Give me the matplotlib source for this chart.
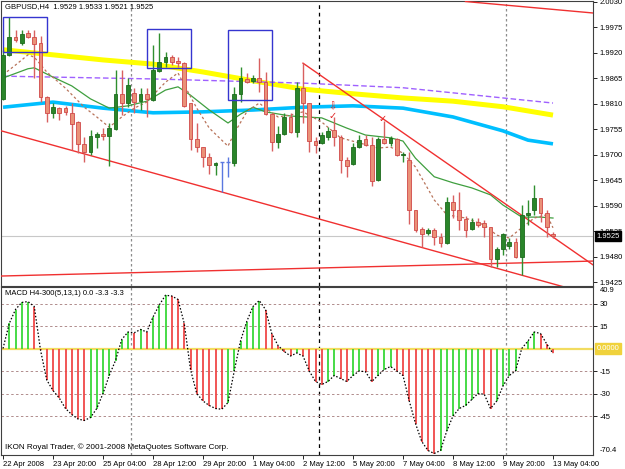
import numpy as np
import matplotlib.pyplot as plt
from matplotlib.patches import Rectangle
from matplotlib.transforms import blended_transform_factory

plt.rcParams['font.family'] = ['Liberation Sans', 'DejaVu Sans']

# GBPUSD H4 candles, 22 Apr 2008 12:00 .. 13 May 2008 04:00 (89 bars)
opens = [1.9821, 1.9916, 1.9954, 1.9942, 1.9963, 1.9954, 1.9942, 1.9825, 1.9791, 1.9801,
         1.9801, 1.9791, 1.9771, 1.9724, 1.9706, 1.9739, 1.9745, 1.9741, 1.9756, 1.9832,
         1.9812, 1.9834, 1.9816, 1.9832, 1.9819, 1.9881, 1.9901, 1.9911, 1.9903, 1.9898,
         1.9812, 1.9734, 1.9717, 1.9696, 1.9678, 1.9685, 1.9685, 1.9683, 1.9832, 1.9864,
         1.9860, 1.9866, 1.9857, 1.9788, 1.9728, 1.9745, 1.9782, 1.9750, 1.9844, 1.9812,
         1.9730, 1.9726, 1.9739, 1.9754, 1.9739, 1.9689, 1.9681, 1.9717, 1.9734, 1.9722,
         1.9646, 1.9734, 1.9726, 1.9734, 1.9700, 1.9689, 1.9581, 1.9540, 1.9532, 1.9538,
         1.9523, 1.9510, 1.9599, 1.9581, 1.9562, 1.9540, 1.9555, 1.9553, 1.9545, 1.9476,
         1.9497, 1.9504, 1.9512, 1.9480, 1.9571, 1.9581, 1.9607, 1.9575, 1.9529]
highs = [1.9926, 1.9998, 1.9970, 1.9970, 1.9970, 1.9970, 1.9957, 1.9827, 1.9812, 1.9803,
         1.9806, 1.9812, 1.9773, 1.9739, 1.9754, 1.9750, 1.9758, 1.9769, 1.9883, 1.9883,
         1.9866, 1.9844, 1.9844, 1.9844, 1.9937, 1.9963, 1.9922, 1.9916, 1.9911, 1.9901,
         1.9812, 1.9769, 1.9717, 1.9704, 1.9685, 1.9685, 1.9696, 1.9847, 1.9890, 1.9877,
         1.9873, 1.9909, 1.9879, 1.9788, 1.9763, 1.9791, 1.9791, 1.9857, 1.9898, 1.9812,
         1.9739, 1.9750, 1.9760, 1.9782, 1.9743, 1.9696, 1.9726, 1.9743, 1.9743, 1.9739,
         1.9739, 1.9773, 1.9741, 1.9737, 1.9706, 1.9706, 1.9581, 1.9545, 1.9543, 1.9543,
         1.9532, 1.9609, 1.9614, 1.9620, 1.9568, 1.9564, 1.9564, 1.9560, 1.9545, 1.9501,
         1.9532, 1.9521, 1.9521, 1.9592, 1.9603, 1.9635, 1.9607, 1.9581, 1.9533]
lows = [1.9819, 1.9914, 1.9944, 1.9937, 1.9952, 1.9866, 1.9814, 1.9771, 1.9780, 1.9775,
        1.9786, 1.9711, 1.9704, 1.9685, 1.9700, 1.9715, 1.9732, 1.9676, 1.9754, 1.9786,
        1.9803, 1.9791, 1.9797, 1.9782, 1.9817, 1.9879, 1.9890, 1.9894, 1.9890, 1.9803,
        1.9711, 1.9706, 1.9674, 1.9659, 1.9657, 1.9620, 1.9653, 1.9676, 1.9814, 1.9855,
        1.9855, 1.9836, 1.9786, 1.9709, 1.9715, 1.9743, 1.9747, 1.9739, 1.9769, 1.9706,
        1.9704, 1.9724, 1.9732, 1.9719, 1.9661, 1.9653, 1.9678, 1.9715, 1.9719, 1.9633,
        1.9644, 1.9724, 1.9719, 1.9698, 1.9685, 1.9551, 1.9534, 1.9501, 1.9527, 1.9506,
        1.9501, 1.9508, 1.9564, 1.9538, 1.9523, 1.9538, 1.9545, 1.9523, 1.9458, 1.9458,
        1.9484, 1.9497, 1.9478, 1.9441, 1.9549, 1.9571, 1.9555, 1.9523, 1.9521]
closes = [1.9916, 1.9954, 1.9948, 1.9961, 1.9954, 1.9939, 1.9825, 1.9791, 1.9803, 1.9791,
          1.9793, 1.9767, 1.9724, 1.9706, 1.9741, 1.9745, 1.9741, 1.9758, 1.9832, 1.9812,
          1.9851, 1.9814, 1.9832, 1.9821, 1.9883, 1.9901, 1.9911, 1.9901, 1.9898, 1.9806,
          1.9734, 1.9717, 1.9696, 1.9678, 1.9683, 1.9685, 1.9685, 1.9832, 1.9866, 1.9857,
          1.9866, 1.9857, 1.9788, 1.9728, 1.9745, 1.9782, 1.9750, 1.9844, 1.9812, 1.9730,
          1.9722, 1.9743, 1.9752, 1.9739, 1.9689, 1.9676, 1.9717, 1.9732, 1.9722, 1.9644,
          1.9734, 1.9726, 1.9737, 1.9700, 1.9702, 1.9581, 1.9538, 1.9530, 1.9538, 1.9523,
          1.9510, 1.9599, 1.9581, 1.9560, 1.9538, 1.9555, 1.9549, 1.9545, 1.9476, 1.9497,
          1.9530, 1.9512, 1.9480, 1.9571, 1.9575, 1.9607, 1.9575, 1.9545, 1.9525]

# MACD(5,13,1) histogram
macd = [0.0, 16.7, 26.0, 30.7, 31.3, 28.0, -1.0, -21.0, -28.0, -33.0,
        -40.0, -44.0, -47.0, -48.0, -46.0, -40.0, -30.0, -18.0, -8.0, 6.0,
        11.0, 10.5, 12.7, 11.0, 21.0, 29.0, 35.5, 35.0, 32.7, 16.7,
        -14.0, -30.0, -35.0, -38.0, -40.0, -40.5, -36.0, -15.0, 5.0, 18.0,
        28.0, 32.0, 26.0, 10.0, 2.0, -2.0, -5.0, -3.0, -5.0, -15.0,
        -22.0, -24.0, -22.0, -18.0, -20.0, -22.0, -18.0, -15.0, -15.5, -22.0,
        -18.0, -14.0, -12.0, -15.0, -18.0, -35.0, -50.0, -62.0, -68.0, -70.0,
        -68.0, -55.0, -45.0, -40.0, -38.0, -34.0, -30.0, -30.5, -40.0, -35.0,
        -25.0, -18.0, -15.0, 0.0, 5.0, 11.0, 10.0, 3.0, -3.3]

# moving averages (bar index -> price)
yellow_bars = [0, 8, 16, 24, 32, 40, 48, 56, 64, 72, 80, 88]
yellow_vals = [1.9927, 1.9916, 1.9905, 1.9896, 1.9879, 1.9860, 1.9842, 1.9832, 1.9823, 1.9816, 1.9804, 1.9786]
blue_bars = [0, 8, 16, 24, 32, 40, 48, 56, 64, 72, 80, 84, 88]
blue_vals = [1.9803, 1.9814, 1.9801, 1.9791, 1.9793, 1.9797, 1.9803, 1.9806, 1.9801, 1.9782, 1.9752, 1.9732, 1.9724]
purple_bars = [0, 24, 48, 64, 72, 80, 88]
purple_vals = [1.9870, 1.9864, 1.9855, 1.9845, 1.9834, 1.9823, 1.9812]
green_bars = [0, 4, 5, 8, 11, 14, 17, 20, 23, 26, 28, 30, 33, 36, 38, 40, 42, 46, 51, 55,
              58, 62, 64, 66, 69, 72, 75, 78, 80, 83, 86, 88]
green_vals = [1.9866, 1.9886, 1.9888, 1.9868, 1.9849, 1.9821, 1.9801, 1.9806, 1.9816, 1.9840,
              1.9847, 1.9829, 1.9797, 1.9769, 1.9788, 1.9803, 1.9793, 1.9784, 1.9780, 1.9758,
              1.9743, 1.9737, 1.9730, 1.9693, 1.9653, 1.9640, 1.9629, 1.9614, 1.9592, 1.9566,
              1.9566, 1.9564]
brown_bars = [0, 2, 4, 5, 7, 10, 13, 15, 17, 19, 21, 23, 24, 26, 28, 29, 31, 33, 36, 37,
              39, 41, 42, 44, 46, 48, 51, 54, 57, 60, 62, 64, 66, 69, 71, 74, 77, 79, 81, 83,
              85, 87, 88]
brown_vals = [1.9873, 1.9894, 1.9916, 1.9911, 1.9879, 1.9844, 1.9803, 1.9782, 1.9760, 1.9782,
              1.9801, 1.9814, 1.9829, 1.9857, 1.9877, 1.9851, 1.9801, 1.9758, 1.9719, 1.9747,
              1.9793, 1.9812, 1.9801, 1.9782, 1.9786, 1.9793, 1.9771, 1.9737, 1.9726, 1.9715,
              1.9717, 1.9704, 1.9674, 1.9603, 1.9571, 1.9564, 1.9549, 1.9527, 1.9521, 1.9543,
              1.9564, 1.9571, 1.9543]

# drawn objects
trend_lines = [((0, 1.9751), (88, 1.9422), True),
               ((0, 1.9439), (88, 1.9469), True),
               ((48, 1.9898), (88, 1.9523), False),
               ((74, 2.0031), (88, 2.0014), False)]
rect_bars = [(0, 7), (23, 30), (36, 43)]
rect_prices = [(1.9922, 1.9998), (1.9888, 1.9972), (1.9819, 1.9970)]
mark_bars = [52.7, 52.7, 60.8]
mark_prices = [1.9805, 1.9783, 1.9778]
mark_syms = ['\u21e9', '\u2713', '\u2713']

time_labels = ['22 Apr 2008', '23 Apr 20:00', '25 Apr 04:00', '28 Apr 12:00', '29 Apr 20:00',
               '1 May 04:00', '2 May 12:00', '5 May 20:00', '7 May 04:00', '8 May 12:00',
               '9 May 20:00', '13 May 04:00']
week_seps = [20.5, 50.5, 80.5]

o = np.array(opens); h = np.array(highs); l = np.array(lows); c = np.array(closes)
x = np.arange(len(o))
XL = (-0.32, 94.4)

W, H = 625, 469
fig = plt.figure(figsize=(W / 100, H / 100), dpi=100)
fig.patch.set_facecolor('white')


def px_axes(x0, y0, x1, y1):
    return fig.add_axes([x0 / W, 1 - y1 / H, (x1 - x0) / W, (y1 - y0) / H])


ax = px_axes(1, 1, 593, 286)
mx = px_axes(1, 287, 593, 455)

for a in (ax, mx):
    a.set_xlim(*XL)
    for s in a.spines.values():
        s.set_color('#404040')
        s.set_linewidth(0.8)
    a.yaxis.tick_right()
    a.tick_params(axis='both', direction='out', length=3, width=0.6, labelsize=5.5,
                  pad=1.5, colors='black')

ax.set_ylim(1.94174, 2.00321)
mx.set_ylim(-71, 41)

# separators
for i, s in enumerate(week_seps):
    col, ls = ('black', (0, (3, 3))) if i == 1 else ('#8c8c8c', (0, (2, 2)))
    ax.axvline(s, color=col, lw=0.9, ls=ls, zorder=1)
    mx.axvline(s, color=col, lw=0.9, ls=ls, zorder=1)

# bid line
ax.axhline(closes[-1], color='#c8c8c8', lw=0.8, zorder=1)

# moving averages
ax.plot(yellow_bars, yellow_vals, color='#ffff00', lw=3.6, solid_capstyle='butt', zorder=2)
ax.plot(blue_bars, blue_vals, color='#00bfff', lw=2.6, solid_capstyle='butt', zorder=2)
ax.plot(purple_bars, purple_vals, color='#9f60ff', lw=1.0, ls=(0, (4, 2)), zorder=2)
ax.plot(green_bars, green_vals, color='#3f9f3f', lw=0.9, zorder=2)
ax.plot(brown_bars, brown_vals, color='#b8735a', lw=0.9, ls=(0, (2, 2)), zorder=2)

# trend lines
for (x0, y0), (x1, y1), both in trend_lines:
    k = (y1 - y0) / (x1 - x0)
    xs = np.array([XL[0] if both else x0, XL[1]])
    ax.plot(xs, y0 + k * (xs - x0), color='#f03030', lw=1.0, zorder=3)

# candles
up = c > o
dn = c < o
dj = c == o
ax.vlines(x[up], l[up], h[up], color='#2f8f2f', lw=1.0, zorder=4)
ax.vlines(x[dn], l[dn], h[dn], color='#d86060', lw=1.0, zorder=4)
ax.vlines(x[dj], l[dj], h[dj], color='#5a78e0', lw=1.0, zorder=4)
ax.hlines(o[dj], x[dj] - 0.35, x[dj] + 0.35, color='#5a78e0', lw=1.0, zorder=4)
ax.bar(x[up], (c - o)[up], bottom=o[up], width=0.62, color='#2a852a',
       edgecolor='#1c6a1c', lw=0.6, zorder=5)
ax.bar(x[dn], (o - c)[dn], bottom=c[dn], width=0.62, color='#ea9178',
       edgecolor='#d04848', lw=0.6, zorder=5)

# rectangles
for (b0, b1), (p0, p1) in zip(rect_bars, rect_prices):
    ax.add_patch(Rectangle((b0, p0), b1 - b0, p1 - p0, fill=False, ec='#3535d0', lw=1.0, zorder=6))

# arrows
for b, p, s in zip(mark_bars, mark_prices, mark_syms):
    ax.text(b, p, s, color='#e02020', fontsize=7, ha='center', va='center',
            family=['DejaVu Sans'], zorder=7)

# price axis
ticks = np.round(np.arange(1.9425, 2.0031, 0.0055), 4)
ax.set_yticks(ticks)
ax.set_yticklabels(['%.4f' % t for t in ticks])
ax.set_xticks([])
tr = blended_transform_factory(ax.transAxes, ax.transData)
ax.text(1.006, closes[-1], '%.4f' % closes[-1], transform=tr, color='white', fontsize=5.5,
        va='center', ha='left', zorder=10,
        bbox=dict(boxstyle='square,pad=0.2', fc='black', ec='black'))
ax.text(0.006, 0.992, 'GBPUSD,H4  %.4f %.4f %.4f %.4f' % (opens[-1], highs[-1], lows[-1], closes[-1]),
        transform=ax.transAxes, fontsize=5.5, va='top', ha='left', zorder=10)

# MACD
cols = ['#38d838' if i == 0 or macd[i] > macd[i - 1] else '#f04848' for i in range(len(macd))]
mx.vlines(x, 0, macd, colors=cols, lw=1.3, zorder=3)
mx.plot(x, macd, color='black', lw=0.9, ls=(0, (1.2, 1.5)), zorder=4)
for g in (30, 15, -15, -30, -45):
    mx.axhline(g, color='#b08c8c', lw=0.7, ls=(0, (2.5, 2.5)), zorder=1)
mx.axhline(0, color='#f2dc60', lw=1.6, zorder=2)
mx.set_yticks([30, 15, -15, -30, -45])
mx.set_yticklabels(['30', '15', '-15', '-30', '-45'])
tr2 = blended_transform_factory(mx.transAxes, mx.transData)
mx.text(1.012, 40.9, '40.9', transform=tr2, fontsize=5.5, va='top', ha='left')
mx.text(1.012, -70.4, '-70.4', transform=tr2, fontsize=5.5, va='bottom', ha='left')
mx.text(1.006, 0, '0.0000', transform=tr2, color='white', fontsize=5.5, va='center', ha='left',
        zorder=10, bbox=dict(boxstyle='square,pad=0.2', fc='#f0d23c', ec='#f0d23c'))
mx.text(0.006, 0.985, 'MACD H4-300(5,13,1) 0.0 -3.3 -3.3', transform=mx.transAxes,
        fontsize=5.5, va='top', ha='left')
mx.text(0.006, 0.025, 'IKON Royal Trader, \u00a9 2001-2008 MetaQuotes Software Corp.',
        transform=mx.transAxes, fontsize=5.9, va='bottom', ha='left')

mx.set_xticks(np.arange(0, 89, 8))
mx.set_xticklabels(time_labels)
for lab in mx.get_xticklabels():
    lab.set_horizontalalignment('left')

fig.savefig('out.png', dpi=100, facecolor='white')
